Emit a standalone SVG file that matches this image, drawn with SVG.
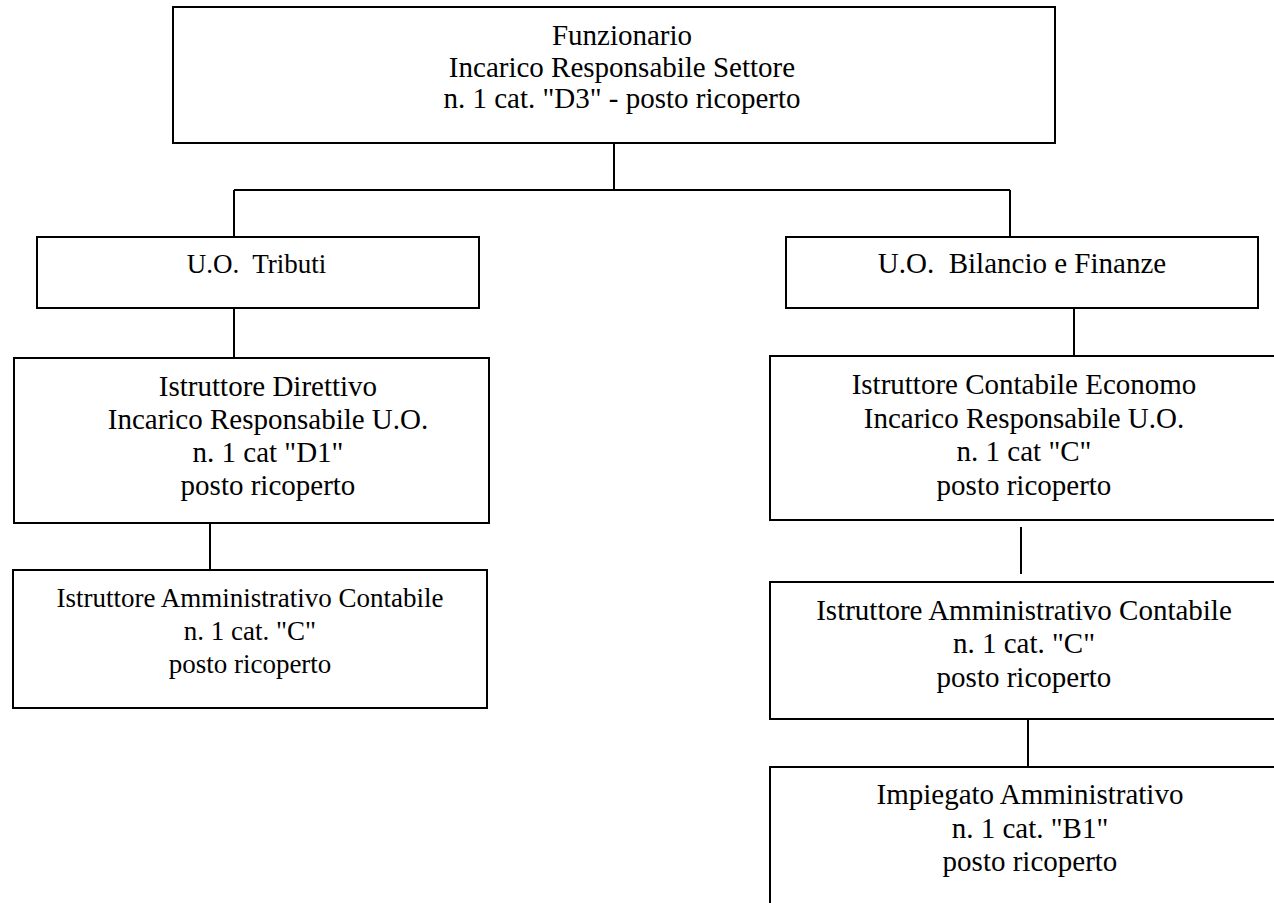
<svg xmlns="http://www.w3.org/2000/svg" width="1274" height="903" viewBox="0 0 1274 903">
<style>
.box{fill:#fff;stroke:#000;stroke-width:2}
.ln{stroke:#000;stroke-width:2;fill:none}
text{font-family:"Liberation Serif","Times New Roman",serif;fill:#000;text-anchor:middle;white-space:pre}
.f27{font-size:27px}
.f29{font-size:29px}
</style>
<rect width="1274" height="903" fill="#fff"/>
<g id="connectors">
<line class="ln" x1="614" y1="143" x2="614" y2="190"/>
<line class="ln" x1="234" y1="190" x2="1010" y2="190"/>
<line class="ln" x1="234" y1="190" x2="234" y2="237"/>
<line class="ln" x1="1010" y1="190" x2="1010" y2="237"/>
<line class="ln" x1="234" y1="308" x2="234" y2="358"/>
<line class="ln" x1="1074" y1="308" x2="1074" y2="356"/>
<line class="ln" x1="210" y1="523" x2="210" y2="570"/>
<line class="ln" x1="1021" y1="527" x2="1021" y2="574"/>
<line class="ln" x1="1028" y1="719" x2="1028" y2="767"/>
</g>
<g id="n_funzionario">
<rect class="box" x="173" y="7" width="882" height="136"/>
<text class="f29" x="622" y="45">Funzionario</text>
<text class="f29" x="622" y="76.5">Incarico Responsabile Settore</text>
<text class="f29" x="622" y="108">n. 1 cat. "D3" - posto ricoperto</text>
</g>
<g id="n_tributi">
<rect class="box" x="37" y="237" width="442" height="71"/>
<text class="f27" x="256.5" y="273" xml:space="preserve">U.O.  Tributi</text>
</g>
<g id="n_bilancio">
<rect class="box" x="786" y="237" width="472" height="71"/>
<text class="f29" x="1022" y="273" xml:space="preserve">U.O.  Bilancio e Finanze</text>
</g>
<g id="n_direttivo">
<rect class="box" x="14" y="358" width="475" height="165"/>
<text class="f29" x="268" y="396">Istruttore Direttivo</text>
<text class="f29" x="268" y="429">Incarico Responsabile U.O.</text>
<text class="f29" x="268" y="462">n. 1 cat "D1"</text>
<text class="f29" x="268" y="495">posto ricoperto</text>
</g>
<g id="n_amm_left">
<rect class="box" x="13" y="570" width="474" height="138"/>
<text class="f27" x="250" y="607">Istruttore Amministrativo Contabile</text>
<text class="f27" x="250" y="640">n. 1 cat. "C"</text>
<text class="f27" x="250" y="673">posto ricoperto</text>
</g>
<g id="n_economo">
<rect class="box" x="770" y="356" width="512" height="164"/>
<text class="f29" x="1024" y="394">Istruttore Contabile Economo</text>
<text class="f29" x="1024" y="427.5">Incarico Responsabile U.O.</text>
<text class="f29" x="1024" y="461">n. 1 cat "C"</text>
<text class="f29" x="1024" y="494.5">posto ricoperto</text>
</g>
<g id="n_amm_right">
<rect class="box" x="770" y="582" width="512" height="137"/>
<text class="f29" x="1024" y="619.5">Istruttore Amministrativo Contabile</text>
<text class="f29" x="1024" y="653">n. 1 cat. "C"</text>
<text class="f29" x="1024" y="686.5">posto ricoperto</text>
</g>
<g id="n_impiegato">
<rect class="box" x="770" y="767" width="520" height="150"/>
<text class="f29" x="1030" y="804">Impiegato Amministrativo</text>
<text class="f29" x="1030" y="838">n. 1 cat. "B1"</text>
<text class="f29" x="1030" y="871">posto ricoperto</text>
</g>
</svg>
